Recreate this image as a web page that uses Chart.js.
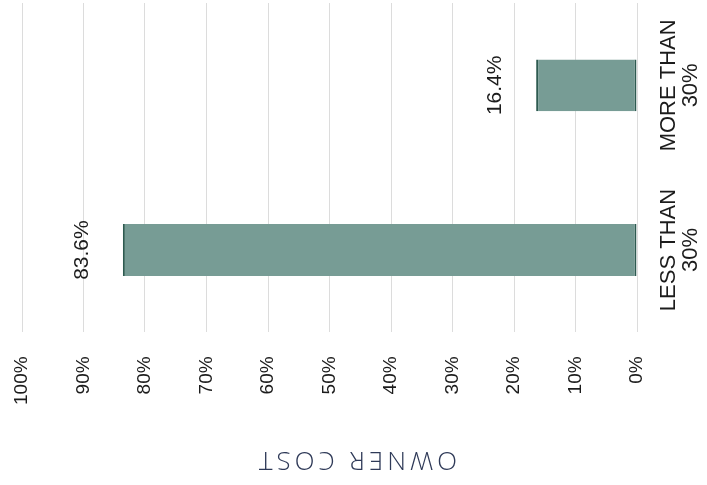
<!DOCTYPE html>
<html>
<head>
<meta charset="utf-8">
<script src="https://cdn.jsdelivr.net/npm/chart.js@4"></script>
<style>
  html, body { margin: 0; padding: 0; background: #ffffff; }
  #wrap { width: 707px; height: 485px; }
</style>
</head>
<body>
<div id="wrap"><canvas id="costChart" width="707" height="485"></canvas></div>
<script>
// chart data
const categories = [["MORE THAN", "30%"], ["LESS THAN", "30%"]];
const shares = [16.4, 83.6];
const tickValues = [0, 10, 20, 30, 40, 50, 60, 70, 80, 90, 100];
const axisTitle = "OWNER COST";

// draws rotated category names, value labels and the upside-down title
const rotatedText = {
  id: "rotatedText",
  afterDatasetsDraw(chart) {
    const ctx = chart.ctx;
    const yScale = chart.scales.y;
    const meta = chart.getDatasetMeta(0);

    ctx.save();
    ctx.fillStyle = "#1c1c1c";
    ctx.textAlign = "center";
    ctx.textBaseline = "middle";

    // category labels right of the chart
    categories.forEach((lines, i) => {
      const y = yScale.getPixelForValue(i);
      lines.forEach((line, j) => {
        ctx.save();
        ctx.translate(chart.chartArea.right + 32 + j * 22, y);
        ctx.rotate(-Math.PI / 2);
        ctx.font = "22px 'Liberation Sans', Arial, sans-serif";
        ctx.fillText(line, 0, 0);
        ctx.restore();
      });
    });

    // value labels at the bar ends
    meta.data.forEach((bar, i) => {
      ctx.save();
      ctx.translate(bar.x - 41, bar.y);
      ctx.rotate(-Math.PI / 2);
      ctx.font = "21px 'Liberation Sans', Arial, sans-serif";
      ctx.fillText(shares[i].toFixed(1) + "%", 0, 0);
      ctx.restore();
    });

    // axis title, turned upside down
    ctx.save();
    ctx.translate(356, 459);
    ctx.rotate(Math.PI);
    ctx.fillStyle = "#2f3a58";
    ctx.font = "300 26px 'Open Sans', 'DejaVu Sans', sans-serif";
    ctx.letterSpacing = "4px";
    ctx.fillText(axisTitle, 0, 0);
    ctx.restore();

    ctx.restore();
  },
};

new Chart(document.getElementById("costChart").getContext("2d"), {
  type: "bar",
  data: {
    labels: categories,
    datasets: [
      {
        data: shares,
        backgroundColor: "#779c95",
        borderColor: "#2d5a50",
        borderWidth: { left: 2, right: 2, top: 0, bottom: 0 },
        borderSkipped: false,
        categoryPercentage: 1,
        barPercentage: 0.315,
      },
    ],
  },
  options: {
    responsive: false,
    animation: false,
    indexAxis: "y",
    layout: { padding: { top: 3, right: 70, left: 22, bottom: 56 } },
    plugins: {
      legend: { display: false },
      tooltip: { enabled: false },
    },
    scales: {
      x: {
        reverse: true,
        min: 0,
        max: 100,
        afterBuildTicks: (scale) => {
          scale.ticks = tickValues.map((v) => ({ value: v }));
        },
        grid: { color: "#dcdcdc", lineWidth: 1, drawTicks: false },
        border: { display: false },
        ticks: {
          minRotation: 90,
          maxRotation: 90,
          padding: 24,
          color: "#1c1c1c",
          font: { family: "'Liberation Sans', Arial, sans-serif", size: 19 },
          callback: (v) => v + "%",
        },
      },
      y: {
        display: false,
      },
    },
  },
  plugins: [rotatedText],
});
</script>
</body>
</html>
